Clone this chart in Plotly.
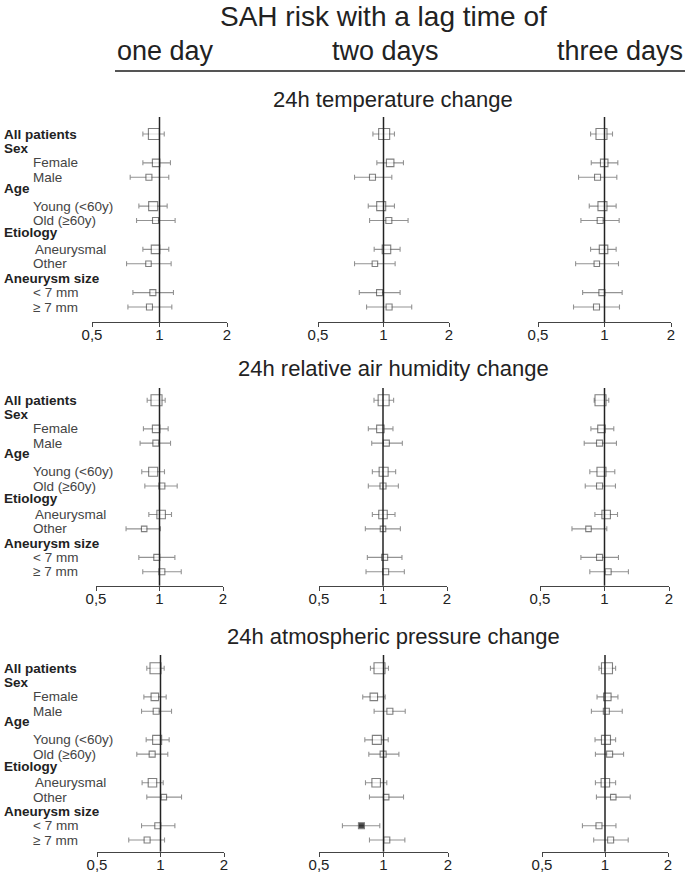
import math
import plotly.graph_objects as go

# ---------------- data (odds ratios with 95% CI) ----------------
GROUPS = ["All patients", "Female", "Male", "Young (<60y)", "Old (≥60y)",
          "Aneurysmal", "Other", "< 7 mm", "≥ 7 mm"]
HEADERS = ["Sex", "Age", "Etiology", "Aneurysm size"]
LAGS = ["one day", "two days", "three days"]
VARIABLES = ["24h temperature change", "24h relative air humidity change",
             "24h atmospheric pressure change"]
TICK_VALS = [0.5, 1, 2]
TICK_TEXT = ["0,5", "1", "2"]

temp_l1_or = [0.944, 0.966, 0.897, 0.937, 0.960, 0.960, 0.893, 0.934, 0.902]
temp_l1_lo = [0.843, 0.843, 0.740, 0.809, 0.790, 0.843, 0.713, 0.761, 0.723]
temp_l1_hi = [1.050, 1.119, 1.100, 1.082, 1.174, 1.100, 1.127, 1.154, 1.135]

temp_l2_or = [1.007, 1.073, 0.890, 0.976, 1.058, 1.032, 0.913, 0.959, 1.061]
temp_l2_lo = [0.894, 0.932, 0.736, 0.851, 0.863, 0.906, 0.736, 0.774, 0.836]
temp_l2_hi = [1.123, 1.235, 1.092, 1.123, 1.297, 1.192, 1.131, 1.192, 1.348]

temp_l3_or = [0.969, 0.997, 0.930, 0.979, 0.956, 0.990, 0.923, 0.973, 0.920]
temp_l3_lo = [0.865, 0.871, 0.763, 0.853, 0.782, 0.865, 0.740, 0.796, 0.724]
temp_l3_hi = [1.087, 1.149, 1.137, 1.129, 1.165, 1.129, 1.157, 1.202, 1.169]

hum_l1_or = [0.968, 0.964, 0.961, 0.933, 1.026, 1.018, 0.846, 0.971, 1.026]
hum_l1_lo = [0.874, 0.839, 0.809, 0.824, 0.852, 0.890, 0.694, 0.798, 0.833]
hum_l1_hi = [1.064, 1.099, 1.128, 1.056, 1.213, 1.140, 1.010, 1.183, 1.268]

hum_l2_or = [1.007, 0.972, 1.037, 1.007, 1.000, 1.000, 1.000, 1.018, 1.029]
hum_l2_lo = [0.907, 0.853, 0.885, 0.891, 0.853, 0.891, 0.826, 0.844, 0.832]
hum_l2_hi = [1.122, 1.114, 1.233, 1.147, 1.181, 1.139, 1.207, 1.228, 1.260]

hum_l3_or = [0.958, 0.968, 0.948, 0.968, 0.948, 1.018, 0.842, 0.948, 1.040]
hum_l3_lo = [0.895, 0.864, 0.804, 0.854, 0.813, 0.902, 0.705, 0.776, 0.854]
hum_l3_hi = [1.047, 1.105, 1.137, 1.117, 1.125, 1.150, 1.025, 1.162, 1.293]

pres_l1_or = [0.947, 0.940, 0.954, 0.964, 0.913, 0.916, 1.037, 0.971, 0.864]
pres_l1_lo = [0.861, 0.834, 0.813, 0.855, 0.772, 0.818, 0.861, 0.813, 0.707]
pres_l1_hi = [1.041, 1.064, 1.128, 1.099, 1.083, 1.030, 1.258, 1.170, 1.045]

pres_l2_or = [0.958, 0.901, 1.071, 0.931, 0.996, 0.924, 1.029, 0.789, 1.036]
pres_l2_lo = [0.869, 0.800, 0.904, 0.818, 0.854, 0.824, 0.860, 0.643, 0.860]
pres_l2_hi = [1.055, 1.018, 1.263, 1.052, 1.180, 1.036, 1.240, 0.961, 1.258]

pres_l3_or = [1.022, 1.026, 1.015, 1.011, 1.052, 1.004, 1.095, 0.936, 1.064]
pres_l3_lo = [0.936, 0.916, 0.861, 0.896, 0.900, 0.900, 0.910, 0.780, 0.883]
pres_l3_hi = [1.124, 1.153, 1.209, 1.124, 1.227, 1.124, 1.320, 1.128, 1.291]

# significant estimates (drawn filled)
pres_l2_sig = [False, False, False, False, False, False, False, True, False]
no_sig = [False] * 9

PANELS = [
    [(temp_l1_or, temp_l1_lo, temp_l1_hi, no_sig),
     (temp_l2_or, temp_l2_lo, temp_l2_hi, no_sig),
     (temp_l3_or, temp_l3_lo, temp_l3_hi, no_sig)],
    [(hum_l1_or, hum_l1_lo, hum_l1_hi, no_sig),
     (hum_l2_or, hum_l2_lo, hum_l2_hi, no_sig),
     (hum_l3_or, hum_l3_lo, hum_l3_hi, no_sig)],
    [(pres_l1_or, pres_l1_lo, pres_l1_hi, no_sig),
     (pres_l2_or, pres_l2_lo, pres_l2_hi, pres_l2_sig),
     (pres_l3_or, pres_l3_lo, pres_l3_hi, no_sig)],
]

# ---------------- layout / style ----------------
W, H = 685, 874
FONT = "Liberation Sans, Arial, sans-serif"
GROUP_ROWS = [0, 2, 3, 5, 6, 8, 9, 11, 12]
HEADER_ROWS = [1, 3.75, 6.85, 10.0]
BOX_SIZES = [11, 7.5, 6, 9, 6, 8.5, 5.5, 6, 6]

# pixel geometry per row of panels: (line top, first row, last row, axis)
ROW_Y = [(117, 134, 307, 322), (388, 400.3, 571.7, 585.7), (655, 668.3, 840, 851.7)]
PANEL_X = [[(92, 227), (318, 449), (538, 671)],
           [(96, 223), (319, 447), (540, 669)],
           [(97, 224), (319, 448), (542, 668)]]
SECTION_Y = [100, 368, 636]


def px_x(p):
    return p / W


def px_y(p):
    return 1 - p / H


fig = go.Figure()
layout_axes = {}
shapes = []
annotations = []

for r in range(3):
    top, first, last, axis = ROW_Y[r]
    s = (last - first) / 12.0
    y_top_val = -(first - top) / s
    y_bot_val = 12 + (axis - last) / s
    for c in range(3):
        k = r * 3 + c + 1
        xa = "x" if k == 1 else f"x{k}"
        ya = "y" if k == 1 else f"y{k}"
        or_, lo, hi, sig = PANELS[r][c]
        x0, x1 = PANEL_X[r][c]
        fig.add_trace(go.Scatter(
            x=or_, y=GROUP_ROWS, xaxis=xa, yaxis=ya, mode="markers",
            showlegend=False, hoverinfo="skip",
            error_x=dict(type="data", symmetric=False,
                         array=[h - o for h, o in zip(hi, or_)],
                         arrayminus=[o - l for o, l in zip(or_, lo)],
                         color="#939393", thickness=1.1, width=2.5),
            marker=dict(symbol="square", size=BOX_SIZES,
                        color=["#000000" if f else "#ffffff" for f in sig],
                        line=dict(color="#4a4a4a", width=1.1)),
        ))
        layout_axes["xaxis" if k == 1 else f"xaxis{k}"] = dict(
            type="log", domain=[px_x(x0), px_x(x1)],
            range=[math.log10(0.5), math.log10(2)],
            tickvals=TICK_VALS, ticktext=TICK_TEXT,
            showline=True, linecolor="#444444", linewidth=1.2,
            ticks="outside", ticklen=4, tickcolor="#444444", tickwidth=1.2,
            ticklabelstandoff=-5,
            showgrid=False, zeroline=False, anchor=ya, automargin=False,
            tickfont=dict(family=FONT, size=15, color="#222222"),
            fixedrange=True,
        )
        layout_axes["yaxis" if k == 1 else f"yaxis{k}"] = dict(
            domain=[px_y(axis), px_y(top)],
            range=[y_bot_val, y_top_val],
            visible=False, anchor=xa, fixedrange=True, automargin=False,
        )
        shapes.append(dict(type="line", xref=xa, yref=f"{ya} domain",
                           x0=1, x1=1, y0=0, y1=1, layer="above",
                           line=dict(color="#222222", width=1.5)))

    # row labels (left of first column)
    ya = "y" if r == 0 else f"y{r * 3 + 1}"
    annotations.append(dict(text="<b>All patients</b>", x=px_x(2), y=0,
                            xref="paper", yref=ya, xanchor="left", yanchor="middle",
                            showarrow=False,
                            font=dict(family=FONT, size=13.5, color="#222222")))
    for hname, hrow in zip(HEADERS, HEADER_ROWS):
        annotations.append(dict(text=f"<b>{hname}</b>", x=px_x(2), y=hrow,
                                xref="paper", yref=ya, xanchor="left", yanchor="middle",
                                showarrow=False,
                                font=dict(family=FONT, size=13.5, color="#222222")))
    for g, gr in zip(GROUPS[1:], GROUP_ROWS[1:]):
        indent = 33 if g in ("Aneurysmal",) else 31
        annotations.append(dict(text=g, x=px_x(indent), y=gr,
                                xref="paper", yref=ya, xanchor="left", yanchor="middle",
                                showarrow=False,
                                font=dict(family=FONT, size=13.5, color="#444444")))
    # section title
    annotations.append(dict(text=VARIABLES[r], x=px_x(393), y=px_y(SECTION_Y[r]),
                            xref="paper", yref="paper", xanchor="center", yanchor="middle",
                            showarrow=False,
                            font=dict(family=FONT, size=22, color="#222222")))

# top titles
annotations.append(dict(text="SAH risk with a lag time of", x=px_x(383), y=px_y(16),
                        xref="paper", yref="paper", xanchor="center", yanchor="middle",
                        showarrow=False, font=dict(family=FONT, size=28, color="#222222")))
for name, cx in zip(LAGS, [165, 385, 620]):
    annotations.append(dict(text=name, x=px_x(cx), y=px_y(51),
                            xref="paper", yref="paper", xanchor="center", yanchor="middle",
                            showarrow=False, font=dict(family=FONT, size=27, color="#222222")))
shapes.append(dict(type="line", xref="paper", yref="paper",
                   x0=px_x(115), x1=1.0, y0=px_y(71), y1=px_y(71),
                   line=dict(color="#555555", width=2)))

fig.update_layout(
    width=W, height=H, margin=dict(l=0, r=0, t=0, b=0, pad=0, autoexpand=False),
    paper_bgcolor="white", plot_bgcolor="white",
    shapes=shapes, annotations=annotations, **layout_axes,
)

fig.write_html("out.html", config={"displayModeBar": False},
               post_script="document.body.style.margin='0';document.body.style.overflow='hidden';")
